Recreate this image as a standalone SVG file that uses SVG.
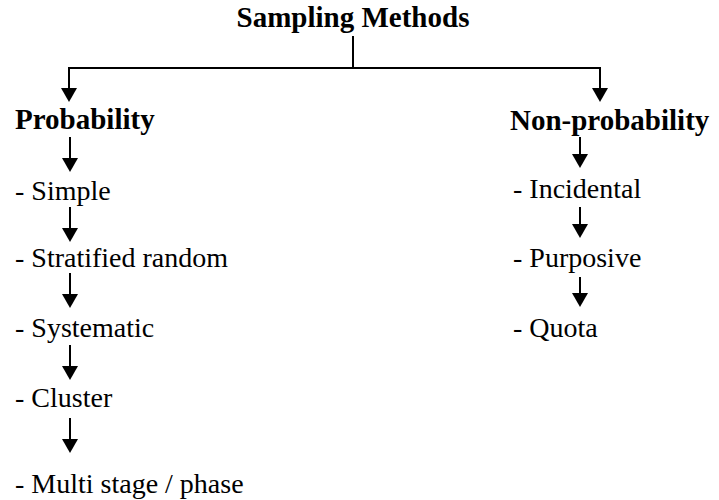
<svg xmlns="http://www.w3.org/2000/svg" width="719" height="500" viewBox="0 0 719 500">
<style>
.t{font-family:"Liberation Serif","Times New Roman",serif;fill:#000}
.b{font-weight:bold;font-size:29px}
.r{font-size:28px}
.c{stroke:#000;stroke-width:2;fill:none}
</style>
<defs>
<marker id="ah" viewBox="0 0 14 16" refX="10" refY="8" markerWidth="14" markerHeight="16" markerUnits="userSpaceOnUse" orient="auto">
<path d="M0,0 L14,8 L0,16 z" fill="#000"/>
</marker>
</defs>
<rect width="719" height="500" fill="#fff"/>
<g id="connectors">
<path class="c" d="M353,36 V68" stroke-width="1.6"/>
<path class="c" d="M600,98 V68 H69 V98" marker-end="url(#ah)"/>
<path class="c" d="M600,68 V98" marker-end="url(#ah)"/>
<path class="c" d="M70,137 V168" marker-end="url(#ah)"/>
<path class="c" d="M70,207 V238" marker-end="url(#ah)"/>
<path class="c" d="M70,273 V304" marker-end="url(#ah)"/>
<path class="c" d="M70,345 V376" marker-end="url(#ah)"/>
<path class="c" d="M70,418 V449" marker-end="url(#ah)"/>
<path class="c" d="M580,137 V164" marker-end="url(#ah)"/>
<path class="c" d="M580,207 V234" marker-end="url(#ah)"/>
<path class="c" d="M580,277 V303" marker-end="url(#ah)"/>
</g>
<g id="title"><text class="t b" x="353" y="27" text-anchor="middle">Sampling Methods</text></g>
<g id="probability"><text class="t b" x="15" y="129">Probability</text></g>
<g id="simple"><text class="t r" x="15" y="200">- Simple</text></g>
<g id="stratified"><text class="t r" x="15" y="267">- Stratified random</text></g>
<g id="systematic"><text class="t r" x="15" y="337">- Systematic</text></g>
<g id="cluster"><text class="t r" x="15" y="407">- Cluster</text></g>
<g id="multistage"><text class="t r" x="15" y="493">- Multi stage / phase</text></g>
<g id="nonprobability"><text class="t b" x="510" y="130">Non-probability</text></g>
<g id="incidental"><text class="t r" x="513" y="198">- Incidental</text></g>
<g id="purposive"><text class="t r" x="513" y="267">- Purposive</text></g>
<g id="quota"><text class="t r" x="513" y="337">- Quota</text></g>
</svg>
